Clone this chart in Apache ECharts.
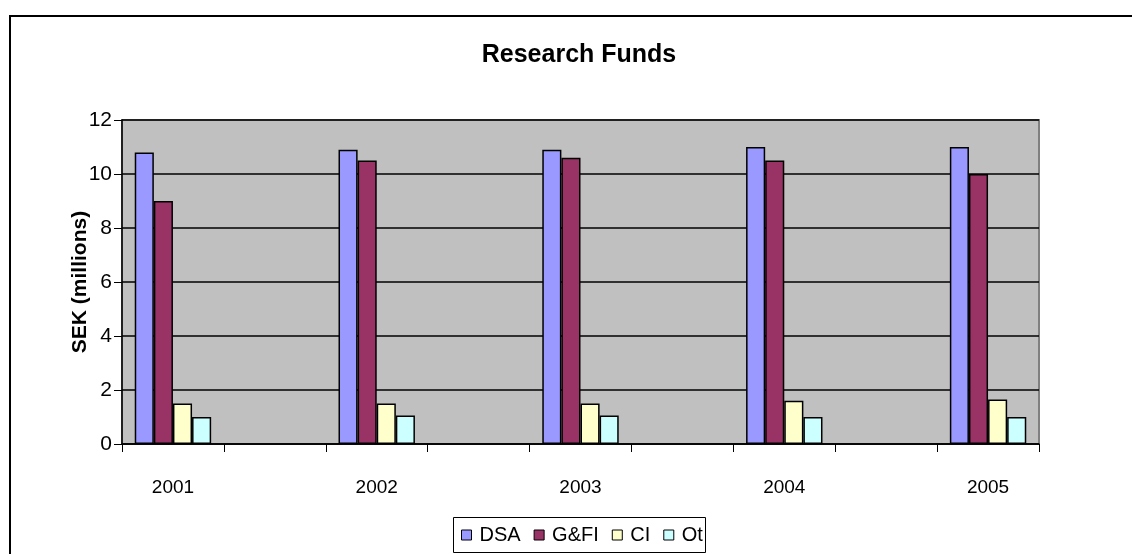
<!DOCTYPE html>
<html>
<head>
<meta charset="utf-8">
<script src="https://cdn.jsdelivr.net/npm/echarts@6/dist/echarts.min.js"></script>
<style>
html,body{margin:0;padding:0;background:#fff;}
#chart{width:1132px;height:554px;}
</style>
</head>
<body>
<div id="chart"></div>
<script>
const categories = ['2001', '', '2002', '', '2003', '', '2004', '', '2005'];
const dsa  = [10.8, null, 10.9, null, 10.9, null, 11.0, null, 11.0];
const gfi  = [9.0,  null, 10.5, null, 10.6, null, 10.5, null, 10.0];
const ci   = [1.5,  null, 1.5,  null, 1.5,  null, 1.6,  null, 1.65];
const ot   = [1.0,  null, 1.06, null, 1.06, null, 1.0,  null, 1.0];
const yTicks = [0, 2, 4, 6, 8, 10, 12];

const font = '"Liberation Sans", Arial, sans-serif';
const chart = echarts.init(document.getElementById('chart'));
const barStyle = c => ({ color: c, borderColor: '#000', borderWidth: 1.5 });
function mk(name, data, color) {
  return { name, type: 'bar', data, barGap: '0%', barCategoryGap: '25%',
    itemStyle: barStyle(color), emphasis: { disabled: true } };
}
chart.setOption({
  animation: false,
  backgroundColor: '#fff',
  title: { text: 'Research Funds', left: 574, top: 38, textAlign: 'center',
    textStyle: { fontFamily: font, fontSize: 25, fontWeight: 'bold', color: '#000' } },
  graphic: [
    { type: 'rect', shape: { x: 10, y: 16, width: 1200, height: 700 },
      style: { fill: null, stroke: '#000', lineWidth: 2 }, z: -10 },
    { type: 'rect', shape: { x: 453.5, y: 517.5, width: 252, height: 35 },
      style: { fill: '#fff', stroke: '#000', lineWidth: 1 }, z: 1 }
  ],
  legend: {
    left: 461, top: 525, itemWidth: 10, itemHeight: 10, itemGap: 13, padding: 0, z: 5,
    icon: 'rect',
    itemStyle: { borderColor: '#000', borderWidth: 1 },
    textStyle: { fontFamily: font, fontSize: 20, color: '#000', padding: [0, 0, 0, 3] },
    data: ['DSA', 'G&FI', 'CI', 'Ot']
  },
  grid: { left: 122, right: 93, top: 120, bottom: 110, show: true,
    backgroundColor: '#C0C0C0', borderColor: '#808080', borderWidth: 2 },
  xAxis: {
    type: 'category', data: categories,
    axisLine: { lineStyle: { color: '#000', width: 1.5 } },
    axisTick: { show: true, interval: 0, length: 8, lineStyle: { color: '#000' } },
    axisLabel: { interval: 0, fontFamily: font, fontSize: 19, color: '#000', margin: 34 }
  },
  yAxis: {
    type: 'value', min: yTicks[0], max: yTicks[yTicks.length - 1], interval: 2,
    name: 'SEK (millions)', nameLocation: 'middle', nameGap: 31, nameMoveOverlap: false,
    nameTextStyle: { fontFamily: font, fontSize: 21, fontWeight: 'bold', color: '#000' },
    axisLine: { show: true, lineStyle: { color: '#000', width: 1.5 } },
    axisTick: { show: true, length: 8, lineStyle: { color: '#000' } },
    axisLabel: { fontFamily: font, fontSize: 21, color: '#000', margin: 10 },
    splitLine: { show: true, lineStyle: { color: '#000', width: 1.5 } }
  },
  series: [
    mk('DSA', dsa, '#9999FF'),
    mk('G&FI', gfi, '#993366'),
    mk('CI', ci, '#FFFFCC'),
    mk('Ot', ot, '#CCFFFF')
  ]
});
</script>
</body>
</html>
